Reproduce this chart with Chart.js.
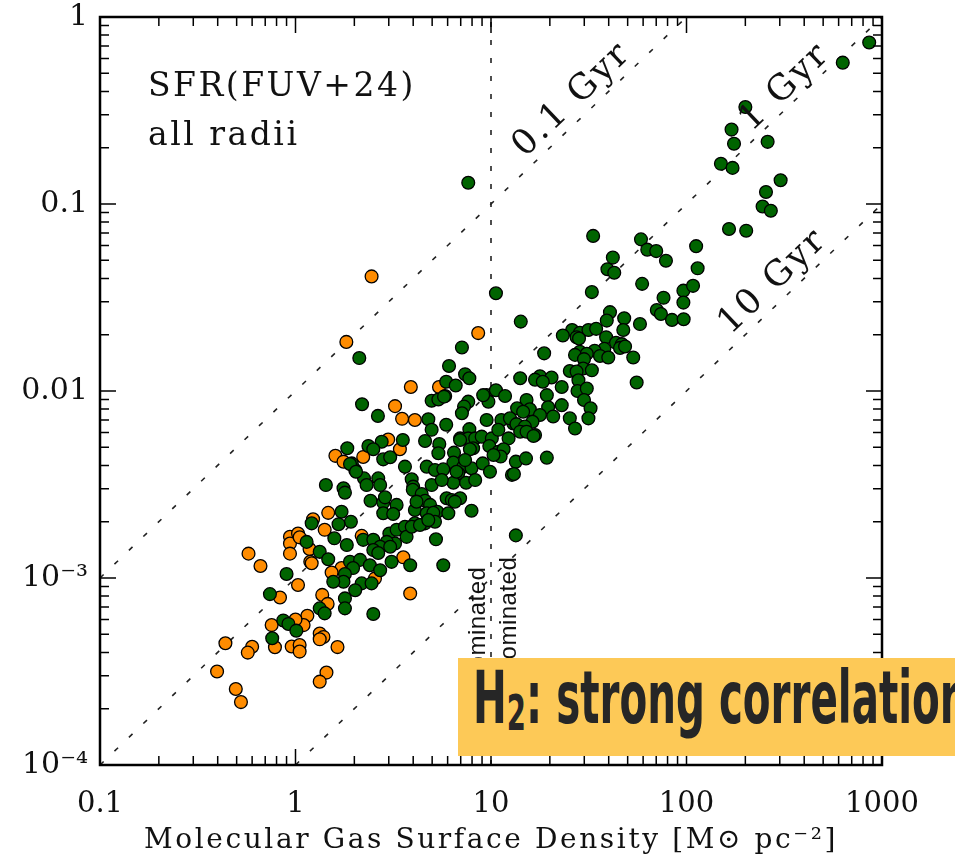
<!DOCTYPE html>
<html>
<head>
<meta charset="utf-8">
<script src="https://cdn.jsdelivr.net/npm/chart.js@4.4.1/dist/chart.umd.min.js"></script>
<style>
  body { margin: 0; background: #fff; }
  #wrap { position: relative; width: 955px; height: 856px; overflow: hidden; }
  #banner { position: absolute; left: 458px; top: 658px; width: 497px; height: 98px; background: #fdc957; overflow: hidden; }
  #banner .t { position: absolute; left: 15px; top: 3px; font: bold 73px/73px 'Liberation Sans Narrow', 'DejaVu Sans Condensed', sans-serif; color: #262626; white-space: nowrap; transform: scaleX(0.615); transform-origin: left top; }
  #banner .t sub { font-size: 0.68em; vertical-align: -7px; line-height: 0; }
</style>
</head>
<body>
<div id="wrap">
  <canvas id="graph" width="955" height="856"></canvas>
  <div id="banner"><span class="t">H<sub>2</sub>: strong correlation</span></div>
</div>
<script>
//--- axis ticks
const xTickVals = [0.1, 1, 10, 100, 1000];
const xTickLabels = ['0.1', '1', '10', '100', '1000'];
const yTickVals = [1e-4, 1e-3, 0.01, 0.1, 1];
const yTickLabels = ['10⁻⁴', '10⁻³', '0.01', '0.1', '1'];

//--- [gas surface density, SFR surface density]
// green points
const h2Pts = [
  [860,0.73],[630,0.57],[200,0.33],[170,0.25],[175,0.21],[260,0.215],[150,0.164],[172,0.156],[303,0.134],[255,0.116],
  [245,0.097],[270,0.092],[165,0.0735],[202,0.072],[112,0.0595],
  [33.3,0.0675],[58.5,0.0647],[63,0.057],[70,0.056],[42,0.0517],[78.5,0.0497],[39.4,0.0448],[42.7,0.0429],[114,0.0453],
  [59.3,0.0374],[96.4,0.0344],[108,0.0365],[32.8,0.0338],[76.3,0.0315],[96.4,0.0297],[70.5,0.0271],[74,0.0258],[84.3,0.024],
  [96.7,0.0242],[40.6,0.0264],[39.1,0.0238],[48,0.0245],[57.8,0.0228],[47.5,0.0212],[26,0.0212],[28.5,0.0205],[31.5,0.0212],
  [34.5,0.0215],[23.3,0.0198],[27.4,0.0194],[38.8,0.0194],[43.6,0.0181],[46.7,0.0178],[45.7,0.017],[48.5,0.0173],[38,0.0168],
  [33.9,0.0164],[28.5,0.0162],[26.9,0.0156],[30.9,0.0158],[36.1,0.0154],[39.8,0.0151],[29.9,0.0148],[53.4,0.0151],[25.3,0.0128],
  [29.6,0.0132],[32.8,0.0129],[27.4,0.0127],[55.6,0.0111],[23,0.0105],[28,0.0114],[27.7,0.0100],[30.9,0.0103],[29.9,0.00895],
  [32.3,0.00808],[23,0.0084],[25.3,0.00714],[31.5,0.00714],
  [7.65,0.13],[10.6,0.0333],[14.2,0.0235],[18.7,0.0159],[28.2,0.0191],[14.1,0.0117],[17.8,0.012],[20.4,0.0118],[16.8,0.0115],
  [9.5,0.0095],[10.6,0.0101],[11.8,0.0094],[9.7,0.00877],[15.2,0.00895],[13.6,0.00808],[15.8,0.00798],[19.3,0.0095],[19.6,0.00818],
  [20.8,0.0073],[17.8,0.00744],[14.6,0.00775],[9.5,0.0070],[11.3,0.0070],[13,0.0067],[16.3,0.00685],
  [7.1,0.0171],[6.1,0.0136],[7.37,0.0123],[7.75,0.0117],[5.9,0.0112],[6.6,0.0107],[5.83,0.0094],[18.4,0.0112],[7.65,0.00877],
  [7.28,0.00825],[7.1,0.0076],[5.9,0.0066],[26.9,0.0063],[12.5,0.00714],[13.5,0.00665],[14.9,0.00645],[16.8,0.00582],[14.1,0.00606],
  [15.2,0.00606],[7.75,0.00625],[6.95,0.00558],[7.65,0.00558],[8.3,0.00558],[8.96,0.0057],[10.1,0.00558],[10.9,0.0062],[12.3,0.00558],
  [8.1,0.00494],[9.8,0.00508],[10.9,0.00473],[11.6,0.00488],[11.2,0.00446],[10.3,0.00455],[6.47,0.00468],[6.42,0.00414],[7.22,0.00394],
  [7.95,0.00386],[9.07,0.0041],[9.88,0.0037],[13.4,0.00419],[15.1,0.00436],[19.3,0.0044],[12.8,0.00356],[13.1,0.0036],[6.8,0.00363],
  [6.42,0.00323],[7.46,0.00323],[8.3,0.00334],[13.4,0.00169],[16.5,0.00575],
  [2.19,0.0085],[2.64,0.00736],[4.78,0.00706],[4.97,0.00887],[5.38,0.009],[5.75,0.00933],[4.97,0.0062],[9.12,0.0095],[2.76,0.00535],
  [2.36,0.00508],[2.5,0.00488],[3.54,0.00547],[4.6,0.0054],[5.44,0.0052],[5.38,0.00465],[6.95,0.00547],[7.8,0.00488],[2.81,0.00431],
  [3.05,0.00442],[3.63,0.00394],[4.69,0.00394],[5.17,0.00378],[5.7,0.00381],[2.02,0.00378],[1.94,0.0041],[2.24,0.00341],[2.31,0.00314],
  [2.65,0.00341],[2.71,0.00314],[3.93,0.00337],[4.0,0.00308],[4.97,0.00314],[5.6,0.00334],[6.66,0.0037],[7.37,0.00427],[2.42,0.00259],
  [2.81,0.00253],[2.87,0.0027],[3.29,0.00246],[3.98,0.00296],[4.42,0.00281],[4.6,0.00259],[4.88,0.00246],[4.08,0.00231],[4.69,0.00222],
  [5.31,0.00226],[6.05,0.00222],[5.93,0.00267],[6.3,0.00261],[6.95,0.00267],[7.95,0.00229],[2.81,0.00222],[3.16,0.0022],
  [1.72,0.00226],[1.92,0.002],[4.16,0.00256],[6.53,0.00256],[5.07,0.00223],[2.22,0.0016],[2.5,0.0016],[1.83,0.0015],
  [3.02,0.00173],[3.29,0.00181],[3.63,0.00188],[4.08,0.00196],[4.6,0.00196],[5.17,0.002],[3.7,0.00166],[3.23,0.00153],[2.93,0.00156],
  [2.71,0.00147],[3.05,0.00147],[3.93,0.00188],[4.33,0.00192],[4.78,0.00204],[5.23,0.00161],[2.5,0.00141],[2.65,0.00136],[3.1,0.00122],
  [3.86,0.00117],[5.7,0.00117],[1.9,0.00122],[2.14,0.00125],[2.4,0.00117],[2.71,0.0011],[1.97,0.00113],[1.79,0.00105],[1.76,0.000955],
  [2.18,0.000936],[2.45,0.000936],[2.02,0.00086],[1.79,0.000778],[1.79,0.000688],[2.5,0.000642],
  [1.21,0.00196],[1.66,0.00194],[1.58,0.00163],[1.14,0.00156],[1.33,0.00138],[1.47,0.00126],[1.56,0.000955],[0.9,0.00105],[0.74,0.00082],
  [1.33,0.000688],[1.41,0.000647],[0.866,0.000593],[0.92,0.000568],[1.01,0.000523],[0.76,0.000476],
  [2.12,0.015],[1.84,0.00494],[1.9,0.00407],[2.04,0.0037],[1.43,0.00314],[1.76,0.00302],[1.79,0.00286]
];
// orange points
const hiPts = [
  [2.45,0.041],[1.82,0.0183],[8.6,0.0204],[3.89,0.0105],[5.42,0.0105],[3.23,0.0083],[3.51,0.0071],[4.08,0.007],[2.98,0.0055],
  [3.42,0.00488],[2.22,0.00444],[1.6,0.0045],[1.76,0.00419],[2.18,0.00168],[3.56,0.00129],[1.72,0.00113],[2.55,0.000995],[3.86,0.000826],
  [1.47,0.00223],[1.23,0.00206],[1.41,0.00181],[0.937,0.00166],[1.03,0.00173],[0.937,0.00153],[1.05,0.00165],[1.18,0.00143],
  [0.937,0.00135],[0.575,0.00135],[0.662,0.00116],[1.19,0.00122],[1.53,0.00107],[1.03,0.000917],[0.833,0.000787],[1.37,0.000812],
  [1.46,0.000727],[1.15,0.000628],[0.755,0.00056],[1.1,0.00056],[1.0,0.0006],[0.785,0.000426],[0.956,0.00043],[1.05,0.000438],
  [1.05,0.000404],[1.33,0.000505],[1.39,0.000484],[1.33,0.00047],[1.64,0.000427],[0.438,0.000448],[0.6,0.000429],[0.57,0.000399],
  [0.397,0.000316],[1.44,0.000312],[1.33,0.000279],[0.495,0.000255],[0.526,0.000217],[1.21,0.0012]
];

//--- constant depletion time lines (0.1, 1, 10 Gyr) and the HI/H2 divide at 10
const gyr01 = [[0.1, 1e-3], [100, 1]];
const gyr1 = [[0.1, 1e-4], [1000, 1]];
const gyr10 = [[1, 1e-4], [1000, 0.1]];
const divide = [[10, 1e-4], [10, 1]];
const gyrLabels = ['0.1 Gyr', '1 Gyr', '10 Gyr'];
const divideLabels = ['HI dominated', 'H2 dominated'];

function xy(pts) { return pts.map(p => ({ x: p[0], y: p[1] })); }

function refLine(pts, dash) {
    return {
        data: xy(pts), showLine: true, pointRadius: 0, borderColor: '#222',
        borderWidth: 1.6, borderDash: dash, order: 5
    };
}

// frame, inward ticks and the text inside the plot
const decor = {
    id: 'decor',
    afterDraw(chart) {
        const ctx = chart.ctx, a = chart.chartArea, x = chart.scales.x, y = chart.scales.y;
        ctx.save();
        ctx.strokeStyle = '#000';
        ctx.lineWidth = 1.5;
        ctx.beginPath();
        for (let k = -1; k <= 3; k++) {
            for (let m = 1; m <= 9; m++) {
                const v = m * Math.pow(10, k);
                if (v > 1000.01) break;
                const px = x.getPixelForValue(v), len = m === 1 ? 16 : 9;
                ctx.moveTo(px, a.bottom); ctx.lineTo(px, a.bottom - len);
                ctx.moveTo(px, a.top); ctx.lineTo(px, a.top + len);
            }
        }
        for (let k = -4; k <= 0; k++) {
            for (let m = 1; m <= 9; m++) {
                const v = m * Math.pow(10, k);
                if (v > 1.0001) break;
                const py = y.getPixelForValue(v), len = m === 1 ? 16 : 9;
                ctx.moveTo(a.left, py); ctx.lineTo(a.left + len, py);
                ctx.moveTo(a.right, py); ctx.lineTo(a.right - len, py);
            }
        }
        ctx.stroke();
        ctx.lineWidth = 2.5;
        ctx.strokeRect(a.left, a.top, a.right - a.left, a.bottom - a.top);

        ctx.fillStyle = '#111';
        ctx.letterSpacing = '2.5px';
        ctx.font = '33px "DejaVu Serif"';
        ctx.textAlign = 'left';
        ctx.textBaseline = 'alphabetic';
        ctx.fillText('SFR(FUV+24)', a.left + 48, a.top + 79);
        ctx.fillText('all radii', a.left + 48, a.top + 128);

        // labels along the depletion time lines
        const ang = Math.atan2(y.getPixelForValue(1) - y.getPixelForValue(1e-4),
                               x.getPixelForValue(1000) - x.getPixelForValue(0.1));
        const at = [[26, 0.36], [319, 0.42], [277, 0.0383]];
        ctx.font = '35px "DejaVu Serif"';
        ctx.textAlign = 'center';
        ctx.textBaseline = 'middle';
        gyrLabels.forEach((t, i) => {
            ctx.save();
            ctx.translate(x.getPixelForValue(at[i][0]), y.getPixelForValue(at[i][1]));
            ctx.rotate(ang);
            ctx.fillText(t, 0, 0);
            ctx.restore();
        });

        // x axis title
        ctx.letterSpacing = '2.6px';
        ctx.font = '28px "DejaVu Serif"';
        ctx.textBaseline = 'alphabetic';
        ctx.fillText('Molecular Gas Surface Density [M⊙ pc⁻²]', x.getPixelForValue(10), a.bottom + 83);

        // labels either side of the divide
        ctx.letterSpacing = '0.5px';
        ctx.font = '24px "Liberation Sans"';
        ctx.textAlign = 'right';
        const x10 = x.getPixelForValue(10);
        [[x10 - 6, 1.15e-3], [x10 + 25, 1.3e-3]].forEach((p, i) => {
            ctx.save();
            ctx.translate(p[0], y.getPixelForValue(p[1]));
            ctx.rotate(-Math.PI / 2);
            ctx.fillText(divideLabels[i], 0, 0);
            ctx.restore();
        });
        ctx.restore();
    }
};

new Chart(document.getElementById('graph'), {
    type: 'scatter',
    data: {
        datasets: [
            { data: xy(h2Pts), backgroundColor: 'rgb(0,100,0)', borderColor: '#000', borderWidth: 1.3, pointRadius: 6.4, order: 1 },
            { data: xy(hiPts), backgroundColor: 'rgb(255,140,0)', borderColor: '#000', borderWidth: 1.3, pointRadius: 6.4, order: 2 },
            refLine(gyr01, [5, 15]),
            refLine(gyr1, [5, 15]),
            refLine(gyr10, [5, 15]),
            refLine(divide, [5, 13])
        ]
    },
    options: {
        responsive: false,
        animation: false,
        layout: { padding: { top: 17, right: 73, left: 0, bottom: 0 } },
        plugins: { legend: { display: false }, tooltip: { enabled: false } },
        scales: {
            x: {
                type: 'logarithmic', min: 0.1, max: 1000,
                afterFit: s => { s.height = 91; s.paddingLeft = 0; s.paddingRight = 0; },
                afterBuildTicks: s => { s.ticks = xTickVals.map(v => ({ value: v })); },
                ticks: {
                    callback: (v, i) => xTickLabels[i], autoSkip: false, maxRotation: 0,
                    font: { family: 'DejaVu Serif', size: 29 }, color: '#111', padding: 22
                },
                grid: { display: false, drawTicks: false },
                border: { display: false }
            },
            y: {
                type: 'logarithmic', min: 1e-4, max: 1,
                afterFit: s => { s.width = 100; s.paddingTop = 0; s.paddingBottom = 0; },
                afterBuildTicks: s => { s.ticks = yTickVals.map(v => ({ value: v })); },
                ticks: {
                    callback: (v, i) => yTickLabels[i], autoSkip: false,
                    font: { family: 'DejaVu Serif', size: 30 }, color: '#111', padding: 12
                },
                grid: { display: false, drawTicks: false },
                border: { display: false }
            }
        }
    },
    plugins: [decor]
});
</script>
</body>
</html>
